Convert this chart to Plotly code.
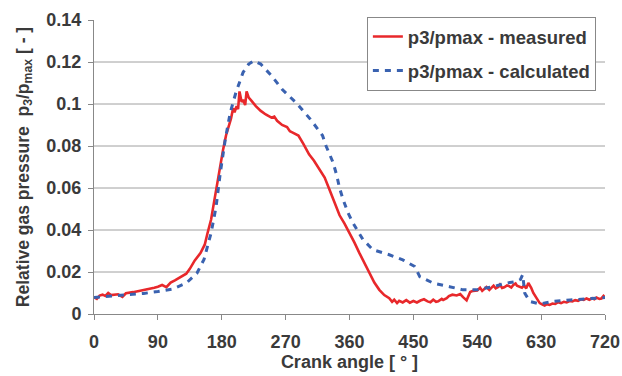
import plotly.graph_objects as go

# Measured (red)
meas_x = [0, 4, 8, 12, 16, 20, 24, 28, 34, 40, 45, 55, 65, 75, 85, 90, 96, 102, 108, 114, 120, 125, 130, 135, 142, 150, 156, 160, 165, 168, 172, 175, 179, 182, 186, 190, 193, 196, 198, 201, 203, 205, 208, 210, 213, 215, 218, 222, 228, 235, 242, 250, 254, 258, 265, 272, 276, 280, 288, 295, 303, 310, 318, 325, 332, 339, 346, 353, 360, 367, 374, 381, 388, 395, 402, 409, 416, 420, 423, 427, 430, 435, 440, 445, 450, 455, 460, 465, 470, 474, 478, 482, 485, 490, 492, 497, 500, 505, 511, 516, 520, 525, 530, 534, 540, 544, 547, 550, 553, 557, 560, 563, 566, 570, 572, 575, 578, 582, 585, 588, 591, 594, 596, 600, 603, 606, 609, 612, 616, 619, 624, 628, 632, 635, 638, 642, 646, 650, 654, 658, 662, 666, 670, 674, 678, 682, 686, 690, 694, 698, 702, 705, 708, 712, 715, 718, 720]
meas_y = [0.0080, 0.0072, 0.0088, 0.0092, 0.0086, 0.0100, 0.0090, 0.0093, 0.0094, 0.0082, 0.0099, 0.0104, 0.0110, 0.0116, 0.0125, 0.0130, 0.0138, 0.0128, 0.0150, 0.0160, 0.0172, 0.0180, 0.0192, 0.0215, 0.0255, 0.0290, 0.0330, 0.0386, 0.0450, 0.0510, 0.0590, 0.0657, 0.0730, 0.0785, 0.0850, 0.0896, 0.0930, 0.0980, 0.0960, 0.0990, 0.0975, 0.1060, 0.1010, 0.1020, 0.0995, 0.1060, 0.1030, 0.1015, 0.0990, 0.0967, 0.0950, 0.0935, 0.0940, 0.0920, 0.0900, 0.0890, 0.0870, 0.0864, 0.0850, 0.0810, 0.0760, 0.0730, 0.0690, 0.0650, 0.0590, 0.0530, 0.0470, 0.0430, 0.0386, 0.0340, 0.0290, 0.0245, 0.0194, 0.0150, 0.0115, 0.0090, 0.0075, 0.0058, 0.0068, 0.0052, 0.0063, 0.0055, 0.0066, 0.0054, 0.0062, 0.0055, 0.0064, 0.0070, 0.0060, 0.0056, 0.0068, 0.0058, 0.0060, 0.0072, 0.0067, 0.0075, 0.0085, 0.0092, 0.0088, 0.0095, 0.0080, 0.0065, 0.0105, 0.0110, 0.0112, 0.0125, 0.0110, 0.0120, 0.0128, 0.0115, 0.0125, 0.0135, 0.0122, 0.0130, 0.0140, 0.0124, 0.0127, 0.0136, 0.0133, 0.0126, 0.0139, 0.0145, 0.0135, 0.0130, 0.0125, 0.0136, 0.0122, 0.0148, 0.0125, 0.0100, 0.0075, 0.0052, 0.0045, 0.0040, 0.0047, 0.0043, 0.0050, 0.0048, 0.0056, 0.0052, 0.0058, 0.0055, 0.0062, 0.0060, 0.0066, 0.0063, 0.0070, 0.0067, 0.0074, 0.0068, 0.0075, 0.0070, 0.0078, 0.0072, 0.0074, 0.0086, 0.0080]

# Calculated (blue)
calc_x = [0, 20, 45, 70, 90, 110, 130, 145, 155, 165, 172, 178, 185, 192, 200, 210, 218, 225, 235, 250, 265, 285, 305, 315, 322, 327, 332, 337, 342, 346, 351, 358, 365, 372, 379, 393, 416, 435, 447, 452, 459, 478, 501, 520, 539, 562, 581, 595, 601, 604, 607, 614, 628, 647, 671, 699, 720]
calc_y = [0.0078, 0.0083, 0.0090, 0.0098, 0.0107, 0.0118, 0.0147, 0.0194, 0.0260, 0.0386, 0.0510, 0.0673, 0.0832, 0.0960, 0.1055, 0.1150, 0.1190, 0.1206, 0.1190, 0.1135, 0.1070, 0.1005, 0.0927, 0.0880, 0.0850, 0.0800, 0.0760, 0.0720, 0.0660, 0.0600, 0.0545, 0.0481, 0.0433, 0.0390, 0.0354, 0.0306, 0.0282, 0.0258, 0.0235, 0.0226, 0.0178, 0.0147, 0.0130, 0.0115, 0.0115, 0.0130, 0.0147, 0.0155, 0.0165, 0.0187, 0.0099, 0.0060, 0.0048, 0.0060, 0.0067, 0.0075, 0.0078]

x_ticks = [0, 90, 180, 270, 360, 450, 540, 630, 720]
y_ticks = [0, 0.02, 0.04, 0.06, 0.08, 0.1, 0.12, 0.14]
y_tick_text = ["0", "0.02", "0.04", "0.06", "0.08", "0.1", "0.12", "0.14"]

FONT = "Liberation Sans, Arial, sans-serif"
TXT = "#3a3a3a"

fig = go.Figure()
fig.add_trace(go.Scatter(x=meas_x, y=meas_y, mode="lines", name="p3/pmax - measured",
                         legendgroup="m",
                         line=dict(color="#e8282b", width=2.6)))
fig.add_trace(go.Scatter(x=calc_x, y=calc_y, mode="lines", name="p3/pmax - calculated",
                         legendgroup="c",
                         line=dict(color="#3a62b0", width=3, dash="6px,6px")))

# horizontal gridlines (not at the top edge)
for v in y_ticks[1:-1]:
    fig.add_shape(type="line", xref="paper", yref="y", x0=0, x1=1, y0=v, y1=v,
                  line=dict(color="#a0a0a0", width=1), layer="below")

fig.update_layout(
    width=622, height=376,
    margin=dict(l=94, r=17, t=20, b=62),
    paper_bgcolor="white", plot_bgcolor="white",
    font=dict(family=FONT, color=TXT),
    showlegend=True,
    legend=dict(x=0.534, y=1.0102, xanchor="left", yanchor="top",
                bgcolor="white", bordercolor="#888", borderwidth=1,
                font=dict(size=18.5, family=FONT, color=TXT, weight="bold"),
                tracegroupgap=7, itemwidth=30),
    xaxis=dict(range=[0, 720], tickvals=x_ticks, showgrid=False, automargin=False,
               showline=True, linecolor="#888", linewidth=1,
               ticks="outside", ticklen=5, tickcolor="#888",
               ticklabelstandoff=6,
               tickfont=dict(size=18, family=FONT, color=TXT, weight="bold"),
               title=dict(text="Crank angle [ ° ]", standoff=4,
                          font=dict(size=18, family=FONT, color=TXT, weight="bold")),
               zeroline=False),
    yaxis=dict(range=[0, 0.14], tickvals=y_ticks, ticktext=y_tick_text,
               showgrid=False, automargin=False,
               showline=True, linecolor="#888", linewidth=1,
               ticks="outside", ticklen=5, tickcolor="#888",
               ticklabelstandoff=3,
               tickfont=dict(size=18, family=FONT, color=TXT, weight="bold"),
               title=dict(text="Relative gas pressure  p<sub>3</sub>/p<sub>max</sub> [ - ]", standoff=12,
                          font=dict(size=17.5, family=FONT, color=TXT, weight="bold")),
               zeroline=False),
)

fig.write_html("out.html", config={"displayModeBar": False},
               post_script="document.body.style.margin='0px';document.body.style.overflow='hidden';")
